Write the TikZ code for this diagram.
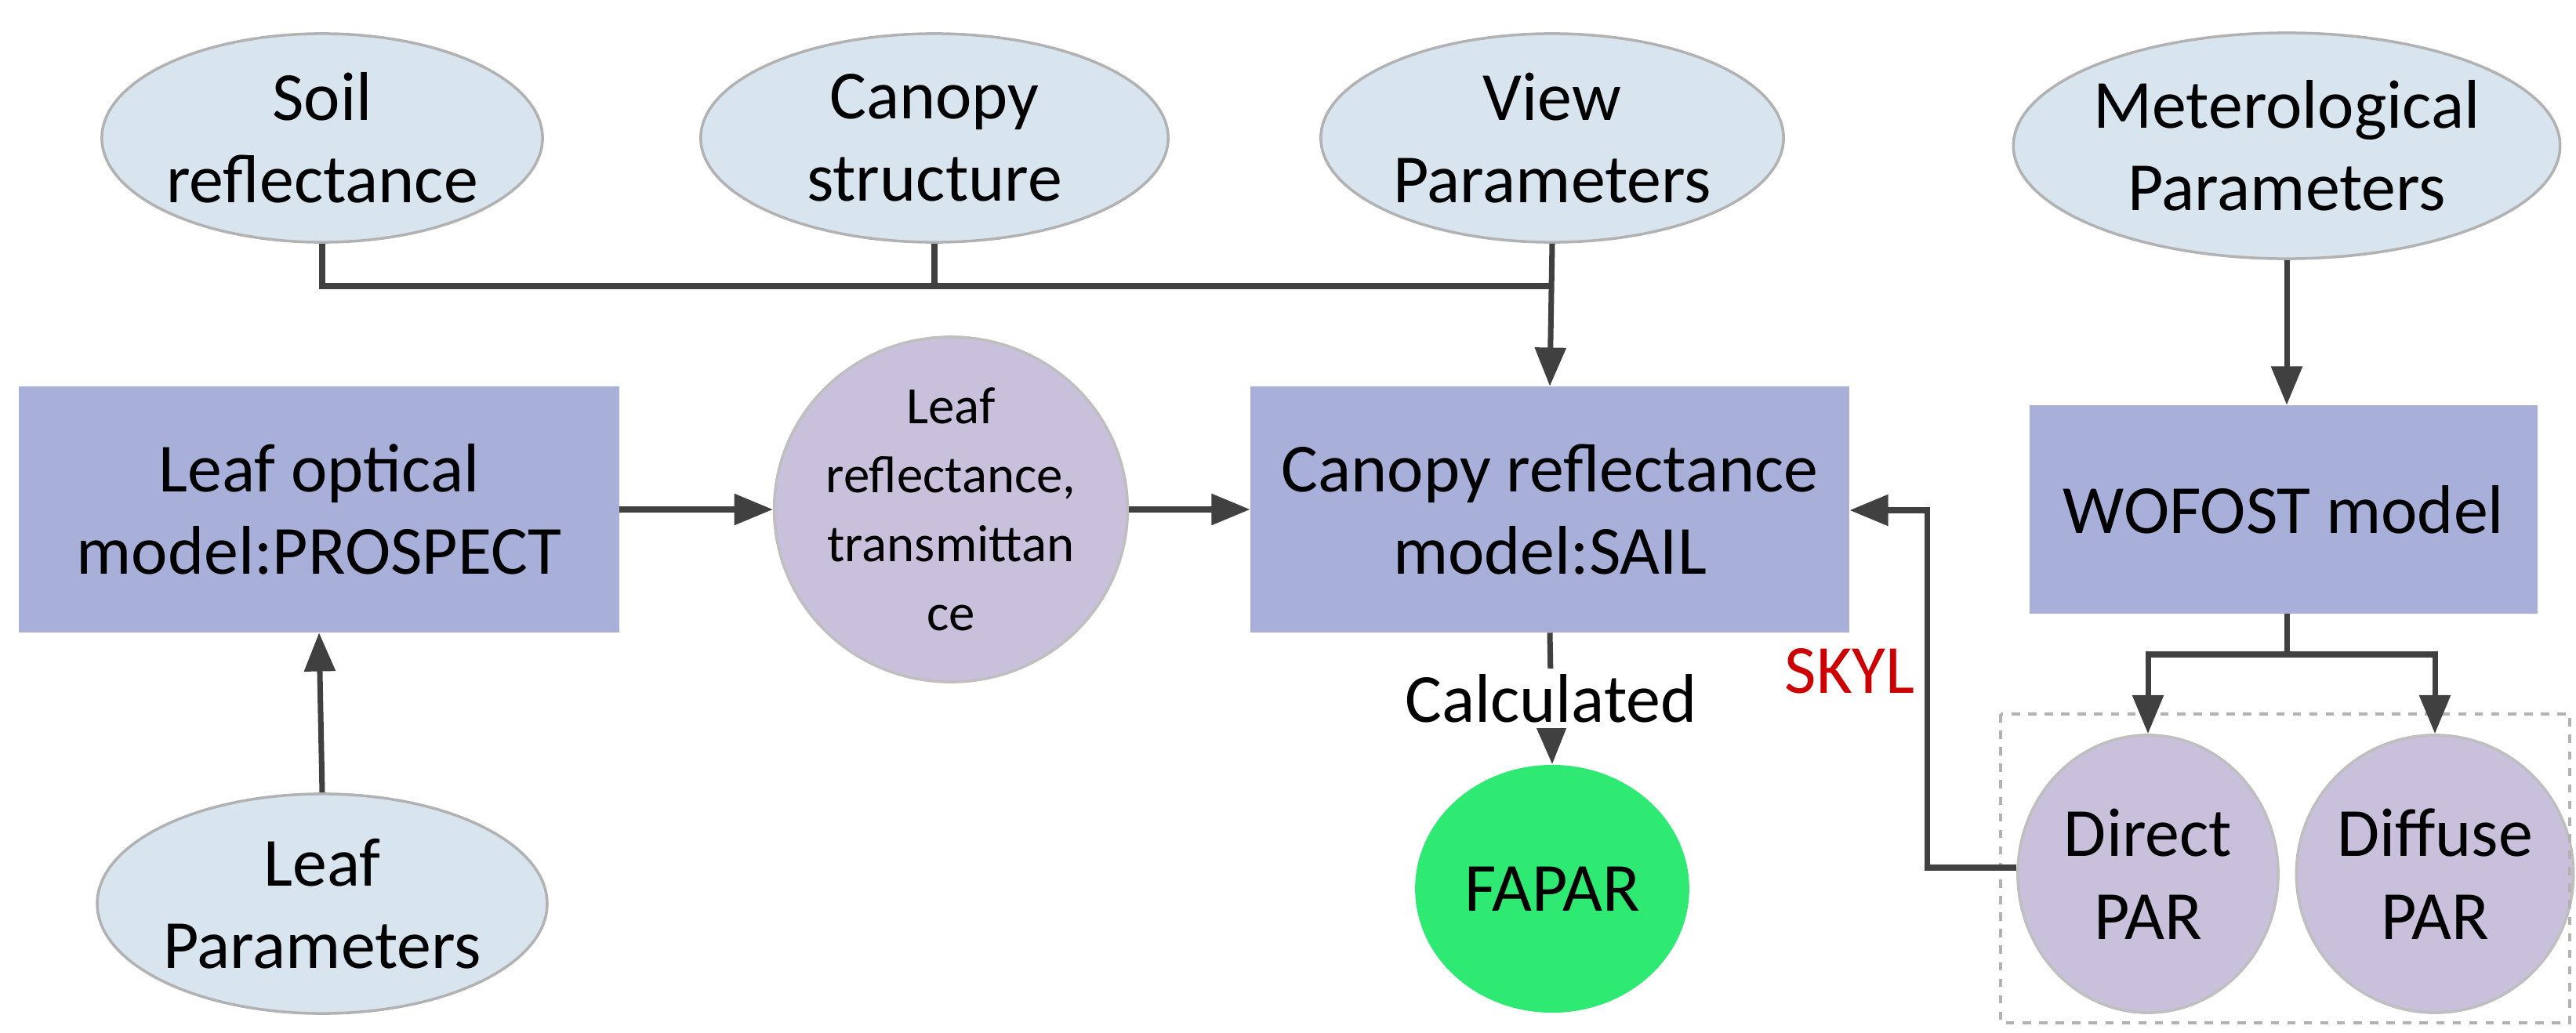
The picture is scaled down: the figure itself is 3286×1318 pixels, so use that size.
\documentclass[tikz,border=0pt]{standalone}
\usepackage{fontspec}
\setmainfont{Carlito}
\usetikzlibrary{arrows.meta,shapes.geometric}
\definecolor{ellc}{HTML}{D8E4EE}
\definecolor{boxc}{HTML}{A8B0DA}
\definecolor{circc}{HTML}{C9C0DB}
\definecolor{fapc}{HTML}{2EEA72}
\begin{document}
\begin{tikzpicture}[x=0.01cm,y=0.01cm,
 ell/.style={ellipse,draw=gray!60,fill=ellc,line width=1pt,inner sep=0pt,align=center,font=\fontsize{25}{30}\selectfont},
 box/.style={rectangle,draw=none,fill=boxc,inner sep=0pt,align=center,font=\fontsize{25}{30}\selectfont},
 circ/.style={ellipse,draw=gray!50,fill=circc,line width=1pt,inner sep=0pt,align=center},
 ln/.style={draw=black!75,line width=2pt},
 arr/.style={ln,-{Triangle[length=14pt,width=11pt]}}]
\useasboundingbox (0,0) rectangle (3286,-1318);
\node[ell,minimum width=5.46cm,minimum height=2.66cm] (soil) at (411,-176) {Soil\\reflectance};
\node[ell,minimum width=5.96cm,minimum height=2.66cm] (cs) at (1192,-176) {Canopy\\structure};
\node[ell,minimum width=5.90cm,minimum height=2.66cm] (view) at (1980,-176) {View\\Parameters};
\node[ell,minimum width=6.32cm,minimum height=2.88cm] (met) at (2917,-186) {Meterological\\Parameters};
\node[box,minimum width=7.65cm,minimum height=3.13cm] (lo) at (407,-650) {Leaf optical\\model:PROSPECT};
\node[circ,minimum width=4.46cm,minimum height=4.40cm,font=\fontsize{19}{25}\selectfont] (lr) at (1213,-650) {Leaf\\reflectance,\\transmittan\\ce};
\node[box,minimum width=7.63cm,minimum height=3.13cm] (cr) at (1977,-650) {Canopy reflectance\\model:SAIL};
\node[box,minimum width=6.47cm,minimum height=2.65cm] (wo) at (2913,-650) {WOFOST model};
\node[ell,minimum width=5.46cm,minimum height=2.80cm] (lp) at (411,-1153) {Leaf\\Parameters};
\node[ellipse,fill=fapc,draw=none,minimum width=3.16cm,minimum height=3.16cm,font=\fontsize{25}{30}\selectfont] (fa) at (1980,-1134) {FAPAR};
\node[circ,minimum width=3.32cm,minimum height=3.54cm,font=\fontsize{25}{30}\selectfont] (dp) at (2740,-1115) {Direct\\PAR};
\node[circ,minimum width=3.36cm,minimum height=3.54cm,font=\fontsize{25}{30}\selectfont] (fp) at (3106,-1115) {Diffuse\\PAR};
\draw[gray!60,dashed,line width=1pt] (2552,-911) rectangle (3278,-1305);
\coordinate (h1) at (411,-365);
\coordinate (h2) at (1980,-365);
\draw[ln] (soil.south) -- (h1) -- (h2);
\draw[ln] (cs.south) -- (cs.south |- h1);
\draw[arr] (view.south) -- (cr.north);
\draw[arr] (met.south) -- (met.south |- wo.north);
\draw[arr] (lo.east) -- (lr.west);
\draw[arr] (lr.east) -- (cr.west);
\draw[arr] (lp.north) -- (lo.south);
\draw[arr] (cr.south) -- node[fill=white,inner sep=2pt,font=\fontsize{25}{30}\selectfont]{Calculated} (fa.north);
\coordinate (w1) at (2917,-835);
\draw[ln] (wo.south -| w1) -- (w1);
\draw[arr] (w1) -| (dp.north);
\draw[arr] (w1) -| (fp.north);
\coordinate (s1) at (2458,-1107);
\coordinate (s2) at (2458,-651);
\draw[arr] (dp.west |- s1) -- (s1) -- node[pos=0.55,left,text=red!80!black,font=\fontsize{25}{30}\selectfont]{SKYL} (s2) -- (cr.east |- s2);
\end{tikzpicture}
\end{document}
